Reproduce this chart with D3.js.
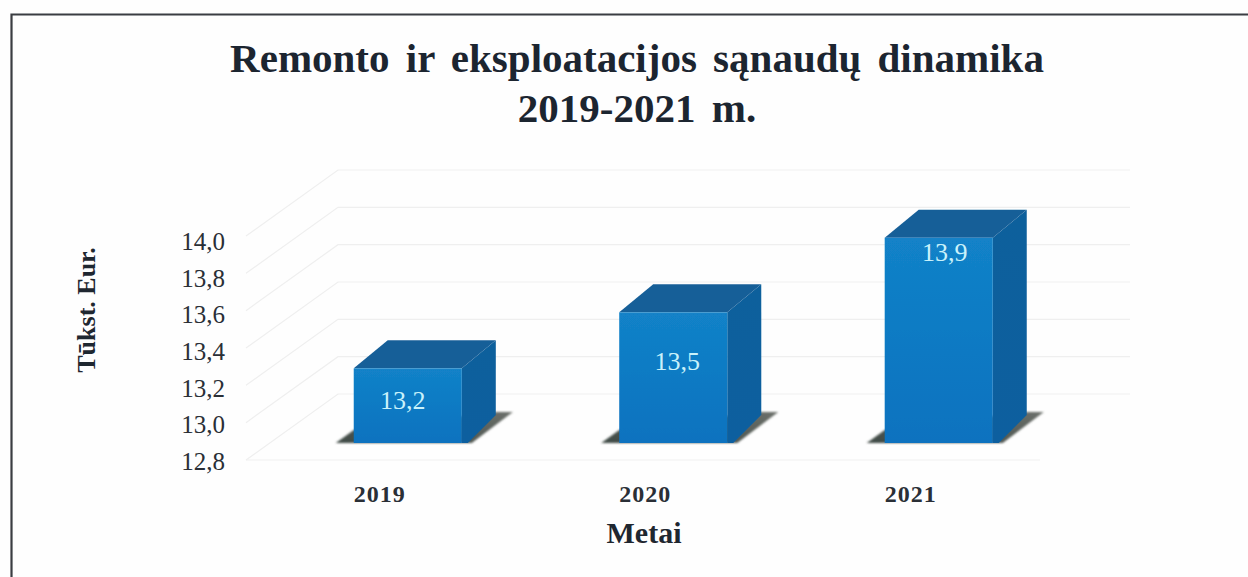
<!DOCTYPE html>
<html><head><meta charset="utf-8">
<script src="https://cdn.jsdelivr.net/npm/d3@7"></script>
<style>html,body{margin:0;padding:0;background:#fefefe}svg{display:block}text{font-family:"Liberation Serif",serif}</style>
</head><body><svg id="c" width="1248" height="577"></svg>
<script>
const categories=["2019","2020","2021"];
const values=[13.2,13.5,13.9];
const valueLabels=["13,2","13,5","13,9"];
const ticks=[12.8,13.0,13.2,13.4,13.6,13.8,14.0];
const titleLines=["Remonto ir eksploatacijos sąnaudų dinamika","2019-2021 m."];
const yTitle="Tūkst. Eur.";
const xTitle="Metai";

const svg=d3.select("#c");
const defs=svg.append("defs");
const g1=defs.append("linearGradient").attr("id","front").attr("x1",0).attr("y1",0).attr("x2",0).attr("y2",1);
g1.append("stop").attr("offset",0).attr("stop-color","#1282c8");
g1.append("stop").attr("offset",1).attr("stop-color","#0b72bf");
const g2=defs.append("linearGradient").attr("id","side").attr("x1",0).attr("y1",0).attr("x2",0).attr("y2",1);
g2.append("stop").attr("offset",0).attr("stop-color","#11609c");
g2.append("stop").attr("offset",1).attr("stop-color","#0f5f9f");
const sg=defs.append("linearGradient").attr("id","shade").attr("x1",0).attr("y1",1).attr("x2",1).attr("y2",0);
sg.append("stop").attr("offset",0).attr("stop-color","#3f4a45");
sg.append("stop").attr("offset",1).attr("stop-color","#6b6f6a");
defs.append("filter").attr("id","soft").attr("x","-20%").attr("y","-20%").attr("width","140%").attr("height","140%").append("feGaussianBlur").attr("stdDeviation",0.7);
defs.append("filter").attr("id","shadow").attr("x","-20%").attr("y","-20%").attr("width","140%").attr("height","140%").append("feGaussianBlur").attr("stdDeviation",1.2);

// frame
svg.append("path").attr("d","M11.5,577V14.5H1248").attr("fill","none").attr("stroke","#3a3d42").attr("stroke-width",2.2).attr("filter","url(#soft)");

// title
svg.append("g").selectAll("text").data(titleLines).join("text")
 .attr("x",637).attr("y",(d,i)=>72+i*50).attr("text-anchor","middle")
 .attr("font-size",41).attr("font-weight","bold").attr("fill","#1c2530").attr("word-spacing",6).text(d=>d);

// scales
const y=d3.scaleLinear().domain([12.8,14.0]).range([443,219]);   // front plane of bars
const tickY=d3.scaleLinear().domain([12.8,14.0]).range([470,250]); // tick label baselines
const x=d3.scaleBand().domain(categories).range([275,1071.5]).paddingInner(0.593).paddingOuter(0.2966);
const depthX=34, depthY=-28;          // bar depth
const wallDx=92, wallDy=-66;          // floor depth
const floorY=t=>y(t)+17;              // front edge of the floor
const leftX=246, backRight=1130, frontRight=1040;
const labelDrop=[41,58,23], labelShift=[-5,4,6];

// walls
const grid=svg.append("g").attr("fill","none").attr("stroke","#efefef").attr("stroke-width",1.2).attr("filter","url(#soft)");
grid.selectAll("path.b").data(ticks).join("path").attr("class","b")
 .attr("d",t=>`M${leftX},${floorY(t)}L${leftX+wallDx},${floorY(t)+wallDy}L${backRight},${floorY(t)+wallDy}`);
grid.append("path").attr("d",`M${leftX},${floorY(12.8)}L${frontRight},${floorY(12.8)}`);

// bars
const base=y(12.8);
const bars=svg.append("g").selectAll("g").data(categories).join("g");
bars.append("path").attr("fill","url(#shade)").attr("filter","url(#shadow)")
 .attr("d",c=>{const l=x(c),r=l+x.bandwidth();return `M${l-18},${base}L${l},${base-13}L${r+depthX},${base-31}H${r+depthX+17}L${r+10},${base}Z`;});
bars.append("path").attr("fill","url(#side)").attr("filter","url(#soft)")
 .attr("d",(c,i)=>{const r=x(c)+x.bandwidth();return `M${r},${y(values[i])}l${depthX},${depthY}V${base+depthY}L${r+6},${base}H${r}Z`;});
bars.append("path").attr("fill","#175f98").attr("filter","url(#soft)")
 .attr("d",(c,i)=>{const l=x(c),r=l+x.bandwidth();return `M${l},${y(values[i])}l${depthX},${depthY}H${r+depthX}L${r},${y(values[i])}Z`;});
bars.append("rect").attr("fill","url(#front)").attr("filter","url(#soft)")
 .attr("x",c=>x(c)).attr("width",x.bandwidth())
 .attr("y",(c,i)=>y(values[i])).attr("height",(c,i)=>base-y(values[i]));
bars.append("text").attr("x",(c,i)=>x(c)+x.bandwidth()/2+labelShift[i])
 .attr("y",(c,i)=>y(values[i])+labelDrop[i])
 .attr("text-anchor","middle").attr("font-size",26).attr("fill","#c9f2fb").text((c,i)=>valueLabels[i]);

// tick labels
svg.append("g").selectAll("text").data(ticks).join("text")
 .attr("x",225).attr("y",t=>tickY(t)).attr("text-anchor","end")
 .attr("font-size",25).attr("fill","#2a2f36").text(t=>t.toFixed(1).replace(".",","));
svg.append("g").selectAll("text").data(categories).join("text")
 .attr("x",c=>x(c)+x.bandwidth()/2-28).attr("y",502).attr("text-anchor","middle")
 .attr("font-size",24).attr("font-weight","bold").attr("letter-spacing",1).attr("fill","#2a2f36").text(c=>c);
svg.append("text").attr("x",644).attr("y",543).attr("text-anchor","middle").attr("font-size",30).attr("font-weight","bold").attr("fill","#1f2730").text(xTitle);
svg.append("text").attr("transform","translate(95,310) rotate(-90)").attr("text-anchor","middle").attr("font-size",26).attr("font-weight","bold").attr("fill","#1f2730").text(yTitle);
</script></body></html>
